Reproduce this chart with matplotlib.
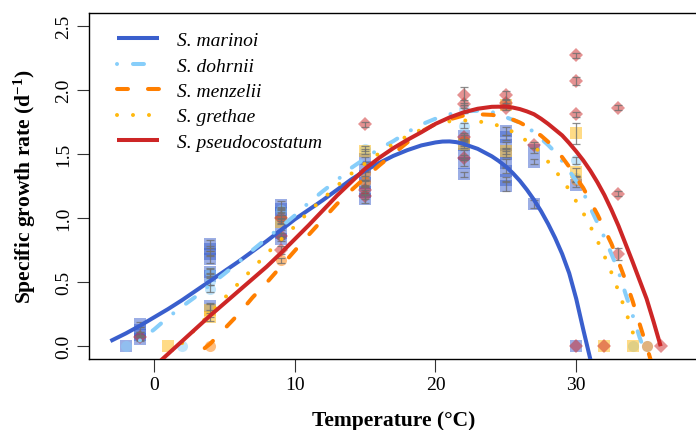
import numpy as np
import matplotlib.pyplot as plt

plt.rcParams['font.family'] = ['Liberation Serif', 'DejaVu Serif']
plt.rcParams['mathtext.fontset'] = 'custom'
plt.rcParams['mathtext.rm'] = 'Liberation Serif'
plt.rcParams['mathtext.bf'] = 'Liberation Serif:bold'
plt.rcParams['mathtext.it'] = 'Liberation Serif:italic'
plt.rcParams['lines.scale_dashes'] = False

species = ['S. marinoi', 'S. dohrnii', 'S. menzelii', 'S. grethae', 'S. pseudocostatum']
colors = ['#3A5FCD', '#87CEFA', '#FF7F00', '#FFB90F', '#CD2626']
markers = ['s', 'o', 'o', 's', 'D']

# fitted thermal performance curves
marinoi_T = [-3.1, -2, -1, 0, 1, 2, 3, 4, 5, 6, 7, 8, 9, 10, 11, 12, 13, 14, 15, 16, 17,
             18, 19, 20, 20.5, 21, 21.5, 22, 23, 24, 24.5, 25, 25.5, 26, 26.5, 27, 27.5,
             28, 28.5, 29, 29.5, 30, 30.5, 31, 31.3]
marinoi_fit = [0.04, 0.10, 0.16, 0.225, 0.29, 0.36, 0.435, 0.51, 0.585, 0.66, 0.74, 0.82,
               0.905, 0.99, 1.065, 1.14, 1.22, 1.30, 1.37, 1.43, 1.485, 1.53, 1.567, 1.59,
               1.597, 1.598, 1.592, 1.578, 1.54, 1.482, 1.445, 1.402, 1.35, 1.29, 1.22,
               1.142, 1.054, 0.955, 0.845, 0.72, 0.57, 0.37, 0.13, -0.1, -0.24]

dohrnii_T = [-1, 0, 1, 2, 3, 4, 5, 6, 7, 8, 9, 10, 11, 12, 13, 14, 15, 16, 17, 18, 19, 20,
             21, 22, 23, 24, 24.5, 25, 25.5, 26, 26.5, 27, 27.5, 28, 28.5, 29, 29.5, 30,
             30.5, 31, 31.5, 32, 32.5, 33, 33.5, 34, 34.5, 35]
dohrnii_fit = [0.045, 0.13, 0.225, 0.31, 0.39, 0.48, 0.565, 0.655, 0.75, 0.84, 0.93, 1.02,
               1.12, 1.21, 1.295, 1.39, 1.465, 1.54, 1.60, 1.67, 1.73, 1.775, 1.81, 1.833,
               1.837, 1.828, 1.808, 1.787, 1.766, 1.745, 1.71, 1.67, 1.62, 1.57, 1.515,
               1.445, 1.37, 1.29, 1.20, 1.08, 0.965, 0.85, 0.72, 0.585, 0.41, 0.245, 0.07,
               -0.08]

menzelii_T = [3.6, 4, 5, 6, 7, 8, 9, 10, 11, 12, 13, 14, 15, 16, 17, 18, 19, 20, 21, 22,
              23, 24, 24.5, 25, 25.5, 26, 26.5, 27, 27.5, 28, 28.5, 29, 29.5, 30, 30.5,
              31, 31.5, 32, 32.5, 33, 33.5, 34, 34.5, 35, 35.3]
menzelii_fit = [-0.015, 0.02, 0.135, 0.25, 0.38, 0.495, 0.62, 0.745, 0.87, 0.99, 1.11, 1.215,
                1.315, 1.41, 1.50, 1.59, 1.675, 1.735, 1.77, 1.80, 1.81, 1.805, 1.797,
                1.785, 1.768, 1.745, 1.715, 1.68, 1.643, 1.595, 1.54, 1.475, 1.40, 1.315,
                1.235, 1.13, 1.03, 0.915, 0.80, 0.66, 0.515, 0.355, 0.175, 0.0, -0.11]

grethae_T = [2, 3, 4, 5, 6, 7, 8, 9, 10, 11, 12, 13, 14, 15, 16, 17, 18, 19, 20, 21, 22,
             23, 24, 24.5, 25, 25.5, 26, 26.5, 27, 27.5, 28, 28.5, 29, 29.5, 30, 30.5, 31,
             31.5, 32, 32.5, 33, 33.5, 34, 34.3]
grethae_fit = [0.025, 0.14, 0.255, 0.375, 0.49, 0.605, 0.72, 0.83, 0.935, 1.05, 1.15, 1.25,
               1.345, 1.425, 1.505, 1.578, 1.64, 1.69, 1.73, 1.755, 1.762, 1.755, 1.737,
               1.72, 1.70, 1.672, 1.64, 1.60, 1.56, 1.505, 1.44, 1.372, 1.30, 1.22, 1.13,
               1.04, 0.936, 0.825, 0.705, 0.575, 0.43, 0.278, 0.115, 0.0]

pseudo_T = [0.4, 1, 2, 3, 4, 5, 6, 7, 8, 9, 10, 11, 12, 13, 14, 15, 16, 17, 18, 19, 20,
            21, 22, 23, 24, 25, 25.5, 26, 26.5, 27, 27.5, 28, 28.5, 29, 29.5, 30, 30.5,
            31, 31.5, 32, 32.5, 33, 33.5, 34, 34.5, 35, 35.5, 36]
pseudo_fit = [-0.12, -0.06, 0.04, 0.14, 0.24, 0.335, 0.43, 0.525, 0.62, 0.725, 0.835, 0.945,
              1.06, 1.175, 1.28, 1.385, 1.47, 1.545, 1.61, 1.67, 1.735, 1.785, 1.825, 1.853,
              1.868, 1.87, 1.862, 1.85, 1.832, 1.81, 1.775, 1.735, 1.69, 1.645, 1.585,
              1.52, 1.45, 1.37, 1.28, 1.18, 1.065, 0.94, 0.80, 0.66, 0.515, 0.37, 0.19, 0.0]

# measured growth rates: temperature, mean, error
marinoi_obs_T = [-2, -1, -1, -1, -1, 4, 4, 4, 4, 4, 4, 4, 9, 9, 9, 9, 9, 9,
                 15, 15, 15, 15, 15, 15, 22, 22, 22, 22, 22,
                 25, 25, 25, 25, 25, 25, 25, 25, 27, 27, 27, 30, 30]
marinoi_obs = [0.0, 0.17, 0.13, 0.09, 0.06, 0.80, 0.76, 0.72, 0.68, 0.58, 0.55, 0.31,
               1.10, 1.07, 1.04, 0.98, 0.88, 0.84,
               1.46, 1.40, 1.33, 1.27, 1.20, 1.15, 1.64, 1.57, 1.50, 1.43, 1.34,
               1.68, 1.63, 1.57, 1.50, 1.43, 1.37, 1.30, 1.25, 1.53, 1.44, 1.11, 1.26, 0.0]
marinoi_err = [0.0, 0.02, 0.02, 0.02, 0.02, 0.03, 0.02, 0.02, 0.03, 0.02, 0.02, 0.03,
               0.03, 0.02, 0.02, 0.02, 0.03, 0.02,
               0.02, 0.02, 0.03, 0.02, 0.02, 0.03, 0.02, 0.02, 0.03, 0.02, 0.02,
               0.03, 0.02, 0.02, 0.02, 0.03, 0.02, 0.02, 0.04, 0.02, 0.02, 0.03, 0.02, 0.0]

dohrnii_obs_T = [-2, 2, 4, 4, 4, 9, 15, 22, 22, 30, 30, 34, 35]
dohrnii_obs = [0.0, 0.0, 0.58, 0.51, 0.45, 1.06, 1.54, 1.85, 1.72, 1.45, 1.31, 0.0, 0.0]
dohrnii_err = [0.0, 0.0, 0.03, 0.03, 0.03, 0.02, 0.02, 0.03, 0.02, 0.03, 0.02, 0.0, 0.0]

menzelii_obs_T = [4, 9, 15, 15, 22, 30, 35]
menzelii_obs = [0.0, 0.67, 1.35, 1.28, 1.60, 1.30, 0.0]
menzelii_err = [0.0, 0.02, 0.02, 0.02, 0.02, 0.02, 0.0]

grethae_obs_T = [1, 4, 4, 9, 15, 22, 25, 25, 30, 30, 32, 34]
grethae_obs = [0.0, 0.28, 0.23, 0.97, 1.52, 1.58, 1.88, 1.52, 1.66, 1.36, 0.0, 0.0]
grethae_err = [0.0, 0.05, 0.03, 0.02, 0.02, 0.02, 0.02, 0.02, 0.08, 0.03, 0.0, 0.0]

pseudo_obs_T = [-1, 9, 9, 9, 15, 15, 15, 22, 22, 22, 22, 25, 25, 25, 27,
                30, 30, 30, 30, 32, 33, 33, 33, 36]
pseudo_obs = [0.07, 1.00, 0.86, 0.75, 1.73, 1.22, 1.17, 1.96, 1.89, 1.63, 1.47,
              1.96, 1.90, 1.86, 1.57, 2.27, 2.07, 1.81, 0.0, 0.0, 1.86, 1.19, 0.72, 0.0]
pseudo_err = [0.02, 0.02, 0.02, 0.03, 0.02, 0.02, 0.02, 0.06, 0.03, 0.02, 0.02,
              0.03, 0.02, 0.02, 0.02, 0.02, 0.03, 0.02, 0.0, 0.0, 0.02, 0.02, 0.05, 0.0]

fits = [(marinoi_T, marinoi_fit), (dohrnii_T, dohrnii_fit), (menzelii_T, menzelii_fit),
        (grethae_T, grethae_fit), (pseudo_T, pseudo_fit)]
obs = [(marinoi_obs_T, marinoi_obs, marinoi_err), (dohrnii_obs_T, dohrnii_obs, dohrnii_err),
       (menzelii_obs_T, menzelii_obs, menzelii_err), (grethae_obs_T, grethae_obs, grethae_err),
       (pseudo_obs_T, pseudo_obs, pseudo_err)]

styles = ['-', (0, (0.01, 11.5, 7.9, 11.5)), (0, (7.9, 14.4)), (0, (0.01, 11.5)), '-']

fig = plt.figure(figsize=(6.96, 4.31), dpi=100)
ax = fig.add_axes([0.1283, 0.1647, 0.8735, 0.8028])

for (t, y, e), c, m in zip(obs, colors, markers):
    ms = 7 if m == 'D' else 8
    ax.plot(t, y, linestyle='none', marker=m, ms=ms, color=c, alpha=0.5,
            markeredgewidth=0, zorder=2)
    t, y, e = np.array(t), np.array(y), np.array(e)
    keep = e > 0
    ax.errorbar(t[keep], y[keep], yerr=e[keep], fmt='none', ecolor='#707070',
                elinewidth=0.9, capsize=3, capthick=0.9, alpha=0.8, zorder=3)

for (t, y), c, ls, name in zip(fits, colors, styles, species):
    ax.plot(t, y, color=c, lw=2.9, linestyle=ls, dash_capstyle='round',
            solid_capstyle='butt', solid_joinstyle='round', label=name, zorder=4)

ax.set_xlim(-4.6, 38.6)
ax.set_ylim(-0.1, 2.6)
ax.set_xticks([0, 10, 20, 30])
ax.set_yticks([0.0, 0.5, 1.0, 1.5, 2.0, 2.5])
ax.set_yticklabels(['0.0', '0.5', '1.0', '1.5', '2.0', '2.5'])
ax.tick_params(direction='out', length=9, width=0.8, labelsize=14, color='#333333')
ax.tick_params(axis='y', labelrotation=90)
for lab in ax.get_yticklabels():
    lab.set_va('center')
ax.spines['right'].set_visible(False)
for s in ['left', 'bottom', 'top']:
    ax.spines[s].set_linewidth(1.0)

ax.set_xlabel('Temperature (°C)', fontsize=15.5, fontweight='bold', labelpad=12)
ax.set_ylabel(r'Specific growth rate (d$^{\mathbf{-1}}$)', fontsize=15.5,
              fontweight='bold', labelpad=12)

leg = ax.legend(loc='upper left', bbox_to_anchor=(0.045, 0.946), frameon=False,
                prop={'style': 'italic', 'size': 14}, handlelength=2.2,
                handletextpad=0.9, labelspacing=0.40, borderpad=0, borderaxespad=0)

fig.savefig('out.png', dpi=100)
